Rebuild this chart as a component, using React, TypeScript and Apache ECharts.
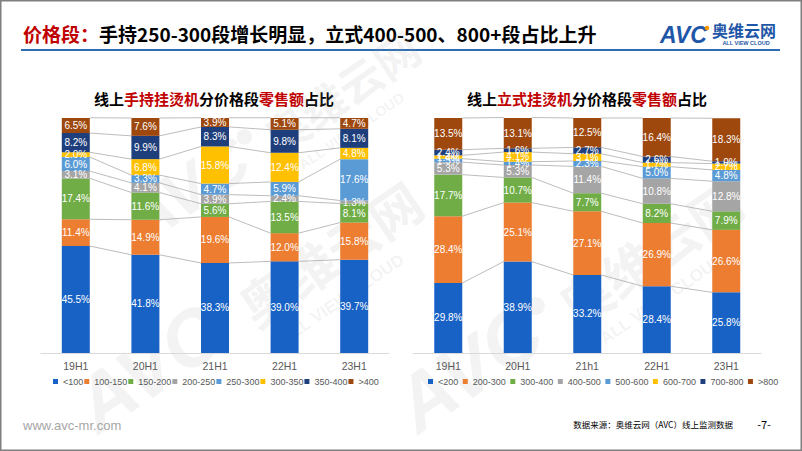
import React, { useEffect, useRef } from "react";
import * as echarts from "echarts";

const LEFT_CATS = ["19H1", "20H1", "21H1", "22H1", "23H1"];
const RIGHT_CATS = ["19H1", "20H1", "21h1", "22H1", "23H1"];

const LEFT_NAMES = ["<100", "100-150", "150-200", "200-250", "250-300", "300-350", "350-400", ">400"];
const RIGHT_NAMES = ["<200", "200-300", "300-400", "400-500", "500-600", "600-700", "700-800", ">800"];

// Left chart: handheld garment steamer (values in %)
const L_LT100 = [45.5, 41.8, 38.3, 39.0, 39.7];
const L_100_150 = [11.4, 14.9, 19.6, 12.0, 15.8];
const L_150_200 = [17.4, 11.6, 5.6, 13.5, 8.1];
const L_200_250 = [3.1, 4.1, 3.9, 2.4, 1.3];
const L_250_300 = [6.0, 3.3, 4.7, 5.9, 17.6];
const L_300_350 = [2.0, 6.8, 15.8, 12.4, 4.8];
const L_350_400 = [8.2, 9.9, 8.3, 9.8, 8.1];
const L_GT400 = [6.5, 7.6, 3.9, 5.1, 4.7];

// Right chart: standing garment steamer (values in %)
const R_LT200 = [29.8, 38.9, 33.2, 28.4, 25.8];
const R_200_300 = [28.4, 25.1, 27.1, 26.9, 26.6];
const R_300_400 = [17.7, 10.7, 7.7, 8.2, 7.9];
const R_400_500 = [5.3, 5.3, 11.4, 10.8, 12.8];
const R_500_600 = [1.5, 1.4, 2.3, 5.0, 4.8];
const R_600_700 = [1.4, 4.1, 3.1, 1.7, 2.7];
const R_700_800 = [2.4, 1.6, 2.7, 2.6, 1.0];
const R_GT800 = [13.5, 13.1, 12.5, 16.4, 18.3];

const LEFT_SERIES = [L_LT100, L_100_150, L_150_200, L_200_250, L_250_300, L_300_350, L_350_400, L_GT400];
const RIGHT_SERIES = [R_LT200, R_200_300, R_300_400, R_400_500, R_500_600, R_600_700, R_700_800, R_GT800];

const COLORS = ["#1862C6", "#ED7D31", "#70AD47", "#A5A5A5", "#5B9BD5", "#FFC000", "#1F3F7C", "#9E480E"];

const BAR_W = 28;
const FONT = "'Noto Sans CJK SC', 'Noto Sans', sans-serif";

function buildSeries(names: string[], values: number[][], gridIndex: number) {
  const out: any[] = [];
  names.forEach((name, k) => {
    out.push({
      name,
      type: "bar",
      stack: "s" + gridIndex,
      xAxisIndex: gridIndex,
      yAxisIndex: gridIndex,
      barWidth: BAR_W,
      itemStyle: { color: COLORS[k] },
      label: {
        show: true,
        position: "inside",
        color: "#fff",
        fontSize: 10,
        fontFamily: "'Liberation Sans', Arial, sans-serif",
        formatter: (p: any) => Number(p.value).toFixed(1) + "%",
      },
      data: values[k],
    });
  });
  // series lines between stacked boundaries
  const n = values[0].length;
  const cum: number[][] = [];
  values.forEach((arr, k) => {
    cum.push(arr.map((v, i) => v + (k > 0 ? cum[k - 1][i] : 0)));
  });
  const lineData: number[][] = [];
  cum.forEach((c) => {
    for (let i = 0; i < n - 1; i++) lineData.push([i, c[i], c[i + 1]]);
  });
  out.push({
    type: "custom",
    xAxisIndex: gridIndex,
    yAxisIndex: gridIndex,
    silent: true,
    clip: false,
    encode: { x: 0, y: 1 },
    data: lineData,
    z: 1,
    renderItem: (params: any, api: any) => {
      const i = api.value(0);
      const p1 = api.coord([i, api.value(1)]);
      const p2 = api.coord([i + 1, api.value(2)]);
      return {
        type: "line",
        shape: { x1: p1[0] + BAR_W / 2, y1: p1[1], x2: p2[0] - BAR_W / 2, y2: p2[1] },
        style: { stroke: "#B4B4B4", lineWidth: 0.9 },
      };
    },
  });
  return out;
}

function watermark(x: number, y: number, rot: number, s: number) {
  const fill = "rgba(165,165,165,0.13)";
  return {
    type: "group",
    x,
    y,
    rotation: rot,
    scaleX: s,
    scaleY: s,
    silent: true,
    z: 100,
    children: [
      { type: "text", x: 0, y: 0, style: { text: "AVC", fill, font: "italic bold 78px 'Liberation Sans', Arial", verticalAlign: "bottom" } },
      { type: "circle", shape: { cx: 170, cy: -52, r: 9 }, style: { fill } },
      { type: "text", x: 190, y: -6, style: { text: "奥维云网", fill, font: "bold 52px " + FONT, verticalAlign: "bottom" } },
      { type: "text", x: 205, y: 22, style: { text: "ALL VIEW CLOUD", fill, font: "bold 17px 'Liberation Sans', Arial", verticalAlign: "bottom" } },
    ],
  };
}

export default function App() {
  const ref = useRef<HTMLDivElement>(null);
  useEffect(() => {
    if (!ref.current) return;
    const chart = echarts.init(ref.current, undefined, { renderer: "svg" });
    const axisCommon = {
      type: "category",
      axisLine: { lineStyle: { color: "#D9D9D9" } },
      axisTick: { show: false },
      axisLabel: { color: "#595959", fontSize: 10.5, margin: 7, fontFamily: "'Liberation Sans', Arial, sans-serif" },
    };
    const yCommon = { type: "value", min: 0, max: 100, show: false };
    const legendCommon = {
      icon: "rect",
      itemWidth: 5,
      itemHeight: 5,
      padding: 0,
      top: 377,
      textStyle: { color: "#595959", fontSize: 9, fontFamily: "'Liberation Sans', Arial, sans-serif" },
    };
    chart.setOption({
      animation: false,
      backgroundColor: "#fff",
      grid: [
        { left: 41, width: 348, top: 118, height: 235 },
        { left: 413.5, width: 347.5, top: 118, height: 235 },
      ],
      xAxis: [
        { ...axisCommon, gridIndex: 0, data: LEFT_CATS },
        { ...axisCommon, gridIndex: 1, data: RIGHT_CATS },
      ],
      yAxis: [
        { ...yCommon, gridIndex: 0 },
        { ...yCommon, gridIndex: 1 },
      ],
      legend: [
        { ...legendCommon, left: 53, itemGap: 1, data: LEFT_NAMES },
        { ...legendCommon, left: 428, itemGap: 4.5, data: RIGHT_NAMES },
      ],
      series: [...buildSeries(LEFT_NAMES, LEFT_SERIES, 0), ...buildSeries(RIGHT_NAMES, RIGHT_SERIES, 1)],
      graphic: [
        {
          type: "rect",
          shape: { x: 0.75, y: 0.75, width: 800.5, height: 449.5 },
          style: { fill: "none", stroke: "#7F7F7F", lineWidth: 1.5 },
          silent: true,
          z: 200,
        },
        {
          type: "text",
          x: 23,
          y: 33,
          style: {
            text: "{r|价格段：}{b|手持250-300段增长明显，立式400-500、800+段占比上升}",
            verticalAlign: "middle",
            rich: {
              r: { fill: "#C00000", font: "bold 19px " + FONT },
              b: { fill: "#000000", font: "bold 19px " + FONT },
            },
          },
        },
        {
          type: "line",
          shape: { x1: 21, y1: 50, x2: 780, y2: 50 },
          style: { stroke: "#2E6DB4", lineWidth: 2 },
        },
        // logo
        { type: "text", x: 660, y: 35, style: { text: "AVC", fill: "#1F57A8", font: "italic bold 23px 'Liberation Sans', Arial", verticalAlign: "middle" } },
        { type: "circle", shape: { cx: 707, cy: 28, r: 2.3 }, style: { fill: "#F39800" } },
        { type: "text", x: 712, y: 30, style: { text: "奥维云网", fill: "#1F57A8", font: "bold 16px " + FONT, verticalAlign: "middle" } },
        { type: "text", x: 746, y: 43, style: { text: "ALL VIEW CLOUD", fill: "#1F57A8", font: "bold 5.5px 'Liberation Sans', Arial", align: "center", verticalAlign: "middle" } },
        // subtitles
        {
          type: "text",
          x: 214,
          y: 98,
          style: {
            text: "{b|线上}{r|手持挂烫机}{b|分价格段}{r|零售额}{b|占比}",
            align: "center",
            verticalAlign: "middle",
            rich: {
              r: { fill: "#C00000", font: "bold 15px " + FONT },
              b: { fill: "#000000", font: "bold 15px " + FONT },
            },
          },
        },
        {
          type: "text",
          x: 587,
          y: 98,
          style: {
            text: "{b|线上}{r|立式挂烫机}{b|分价格段}{r|零售额}{b|占比}",
            align: "center",
            verticalAlign: "middle",
            rich: {
              r: { fill: "#C00000", font: "bold 15px " + FONT },
              b: { fill: "#000000", font: "bold 15px " + FONT },
            },
          },
        },
        // footer
        { type: "text", x: 23, y: 425, style: { text: "www.avc-mr.com", fill: "#A6A6A6", font: "13px 'Liberation Sans', Arial", verticalAlign: "middle" } },
        { type: "text", x: 733, y: 424, style: { text: "数据来源：奥维云网（AVC）线上监测数据", fill: "#000", font: "8.5px " + FONT, align: "right", verticalAlign: "middle" } },
        { type: "text", x: 764, y: 424, style: { text: "-7-", fill: "#000", font: "11px " + FONT, align: "center", verticalAlign: "middle" } },
        // watermarks
        watermark(105, 445, 0.6, 1),
        watermark(425, 445, 0.6, 1),
        watermark(150, 255, 0.6, 0.85),
      ],
    });
    return () => chart.dispose();
  }, []);
  return (
    <div style={{ position: "fixed", left: 0, top: 0, width: 802, height: 451, background: "#fff" }}>
      <div ref={ref} style={{ width: 802, height: 451 }} />
    </div>
  );
}
